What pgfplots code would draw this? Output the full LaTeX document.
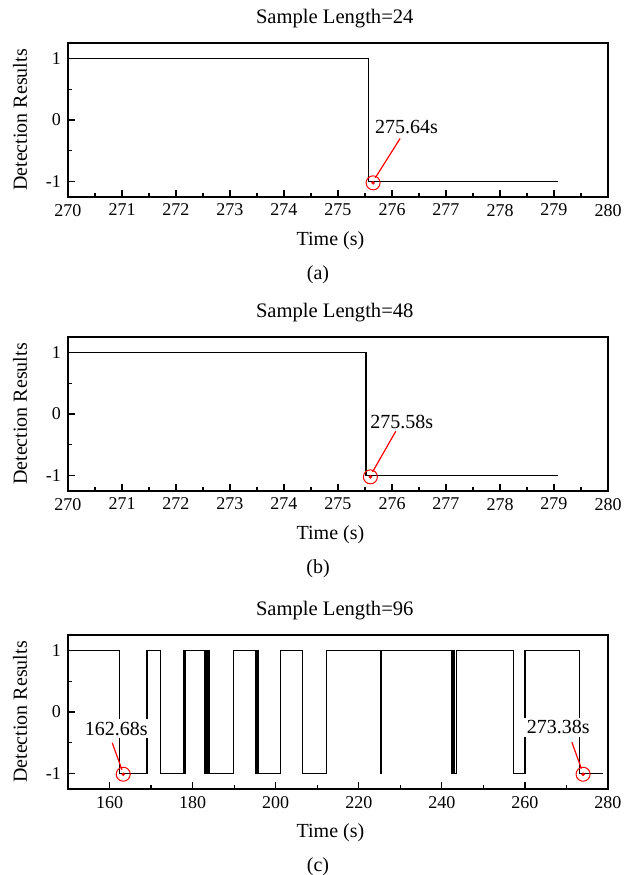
\documentclass[border=0pt]{standalone}
\usepackage{fontspec}
\setmainfont{Liberation Serif}
\usepackage{pgfplots}
\pgfplotsset{compat=1.18}
\pgfplotsset{
  myax/.style={
    width=270pt, height=77pt, scale only axis, anchor=south west,
    ymin=-1.25, ymax=1.25, ytick={-1,0,1}, yticklabels={-1,0,1},
    minor y tick num=1, minor x tick num=1,
    tick align=inside, xtick pos=bottom, ytick pos=left,
    major tick length=3.5pt, minor tick length=2pt,
    axis line style={line width=0.75pt},
    every tick/.style={black, line width=0.6pt},
    tick label style={font=\fontsize{9}{10}\selectfont},
    /pgf/number format/assume math mode=true,
    xlabel={Time (s)}, ylabel={Detection Results},
    label style={font=\fontsize{10}{12}\selectfont},
    xlabel style={at={(axis description cs:0.486,0)}, anchor=base, yshift=-24pt},
    ylabel style={at={(axis description cs:-0.089,0.5)}, anchor=center},
    title style={at={(axis description cs:0.494,1)}, anchor=base, yshift=4pt, font=\fontsize{10.3}{12}\selectfont},
    clip=false,
  },
  sig/.style={black, line width=0.7pt},
  ann/.style={red, line width=0.6pt},
  ring/.style={red, only marks, mark=o, mark size=3.5pt, mark options={line width=0.5pt}},
  dot/.style={red, only marks, mark=*, mark size=0.7pt},
}
\begin{document}
\begin{tikzpicture}
\useasboundingbox (0,0) rectangle (314pt,-437.5pt);
% (a)
\begin{axis}[myax, at={(34pt,-98.5pt)}, xmin=270, xmax=280, xtick={270,271,...,280},
  title={Sample Length=24}]
\addplot[sig] coordinates {(270,1) (275.57,1) (275.57,-1) (279.07,-1)};
\addplot[ann] coordinates {(276.15,-0.30) (275.69,-0.94)};
\addplot[ring] coordinates {(275.65,-1.02)};
\addplot[dot] coordinates {(275.65,-1.02)};
\node[font=\fontsize{10}{12}\selectfont, inner sep=1pt] at (axis cs:276.27,-0.12) {275.64s};
\node[anchor=base, yshift=-41pt, font=\fontsize{10}{12}\selectfont] at (axis description cs:0.463,0) {(a)};
\end{axis}
% (b)
\begin{axis}[myax, at={(34pt,-245.5pt)}, xmin=270, xmax=280, xtick={270,271,...,280},
  title={Sample Length=48}]
\addplot[sig] coordinates {(270,1) (275.52,1) (275.52,-1) (279.07,-1)};
\addplot[ann] coordinates {(276.07,-0.28) (275.64,-0.94)};
\addplot[ring] coordinates {(275.6,-1.02)};
\addplot[dot] coordinates {(275.6,-1.02)};
\node[font=\fontsize{10}{12}\selectfont, inner sep=1pt] at (axis cs:276.18,-0.13) {275.58s};
\node[anchor=base, yshift=-41pt, font=\fontsize{10}{12}\selectfont] at (axis description cs:0.463,0) {(b)};
\end{axis}
% (c)
\begin{axis}[myax, at={(34pt,-394.5pt)}, xmin=150, xmax=280, xtick={160,180,...,280},
  title={Sample Length=96}]
\addplot[sig, const plot] coordinates {
(150,1) (162.4,-1) (169.0,1) (172.2,-1) (177.8,1) (178.0,-1) (178.2,1)
(182.8,-1) (183.1,1) (183.4,-1) (183.7,1) (184.0,-1) (189.9,1)
(195.1,-1) (195.4,1) (195.7,-1) (201.2,1) (206.5,-1) (212.2,1)
(225.3,-1) (225.5,1) (242.4,-1) (242.6,1) (242.9,-1) (243.6,1)
(257.2,-1) (260.0,1) (273.2,-1) (278.9,-1)};
\node[fill=white, font=\fontsize{10}{12}\selectfont, inner sep=1.5pt] at (axis cs:161.6,-0.27) {162.68s};
\node[fill=white, font=\fontsize{10}{12}\selectfont, inner sep=1.5pt] at (axis cs:268.0,-0.25) {273.38s};
\addplot[ann] coordinates {(160.65,-0.50) (163.0,-0.94)};
\addplot[ann] coordinates {(271.3,-0.49) (273.6,-0.92)};
\addplot[ring] coordinates {(163.3,-1.01)};
\addplot[dot] coordinates {(163.3,-1.01)};
\addplot[ring] coordinates {(274.0,-1.01)};
\addplot[dot] coordinates {(274.0,-1.01)};
\node[anchor=base, yshift=-41pt, font=\fontsize{10}{12}\selectfont] at (axis description cs:0.463,0) {(c)};
\end{axis}
\end{tikzpicture}
\end{document}
